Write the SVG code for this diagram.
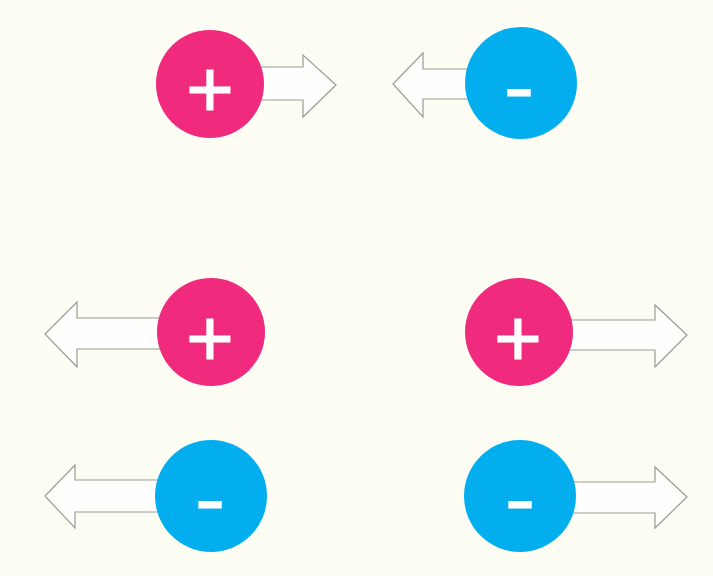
<svg xmlns="http://www.w3.org/2000/svg" width="713" height="576" viewBox="0 0 713 576">
<style>
.bg{fill:#fdfdf4}
.arrow{fill:#fefefc;stroke:#9a9a96;stroke-width:1.2;stroke-linejoin:miter}
.pos{fill:#f02a7c}
.neg{fill:#02aeed}
.sign{fill:#ffffff;stroke:#ffffff;stroke-width:1.2;font-family:"Liberation Sans",Arial,sans-serif;font-weight:normal;font-size:82px;text-anchor:middle}
</style>
<rect class="bg" x="0" y="0" width="713" height="576"/>
<g id="connectors">
<path class="arrow" d="M240,67 L303,67 L303,55 L336,85 L303,117 L303,100 L240,100 Z"/>
<path class="arrow" d="M490,69 L423,69 L423,53 L393,84 L423,117 L423,99 L490,99 Z"/>
<path class="arrow" d="M185,318 L77,318 L77,302 L45,334 L77,367 L77,349 L185,349 Z"/>
<path class="arrow" d="M545,320 L655,320 L655,305 L687,335 L655,367 L655,350 L545,350 Z"/>
<path class="arrow" d="M185,480 L75,480 L75,465 L45,496 L75,528 L75,512 L185,512 Z"/>
<path class="arrow" d="M545,482 L655,482 L655,467 L687,497 L655,528 L655,513 L545,513 Z"/>
</g>
<g id="p1"><circle class="pos" cx="210" cy="84" r="54"/><text class="sign" x="210" y="117">+</text></g>
<g id="n1"><circle class="neg" cx="521" cy="83" r="56"/><text class="sign" transform="translate(519 0) scale(1.1 1)" x="0" y="115">-</text></g>
<g id="p2"><circle class="pos" cx="211" cy="332" r="54"/><text class="sign" x="210" y="366">+</text></g>
<g id="p3"><circle class="pos" cx="519" cy="332" r="54"/><text class="sign" x="518" y="366">+</text></g>
<g id="n2"><circle class="neg" cx="211" cy="496" r="56"/><text class="sign" transform="translate(210 0) scale(1.1 1)" x="0" y="527">-</text></g>
<g id="n3"><circle class="neg" cx="520" cy="496" r="56"/><text class="sign" transform="translate(520 0) scale(1.1 1)" x="0" y="527">-</text></g>
</svg>
